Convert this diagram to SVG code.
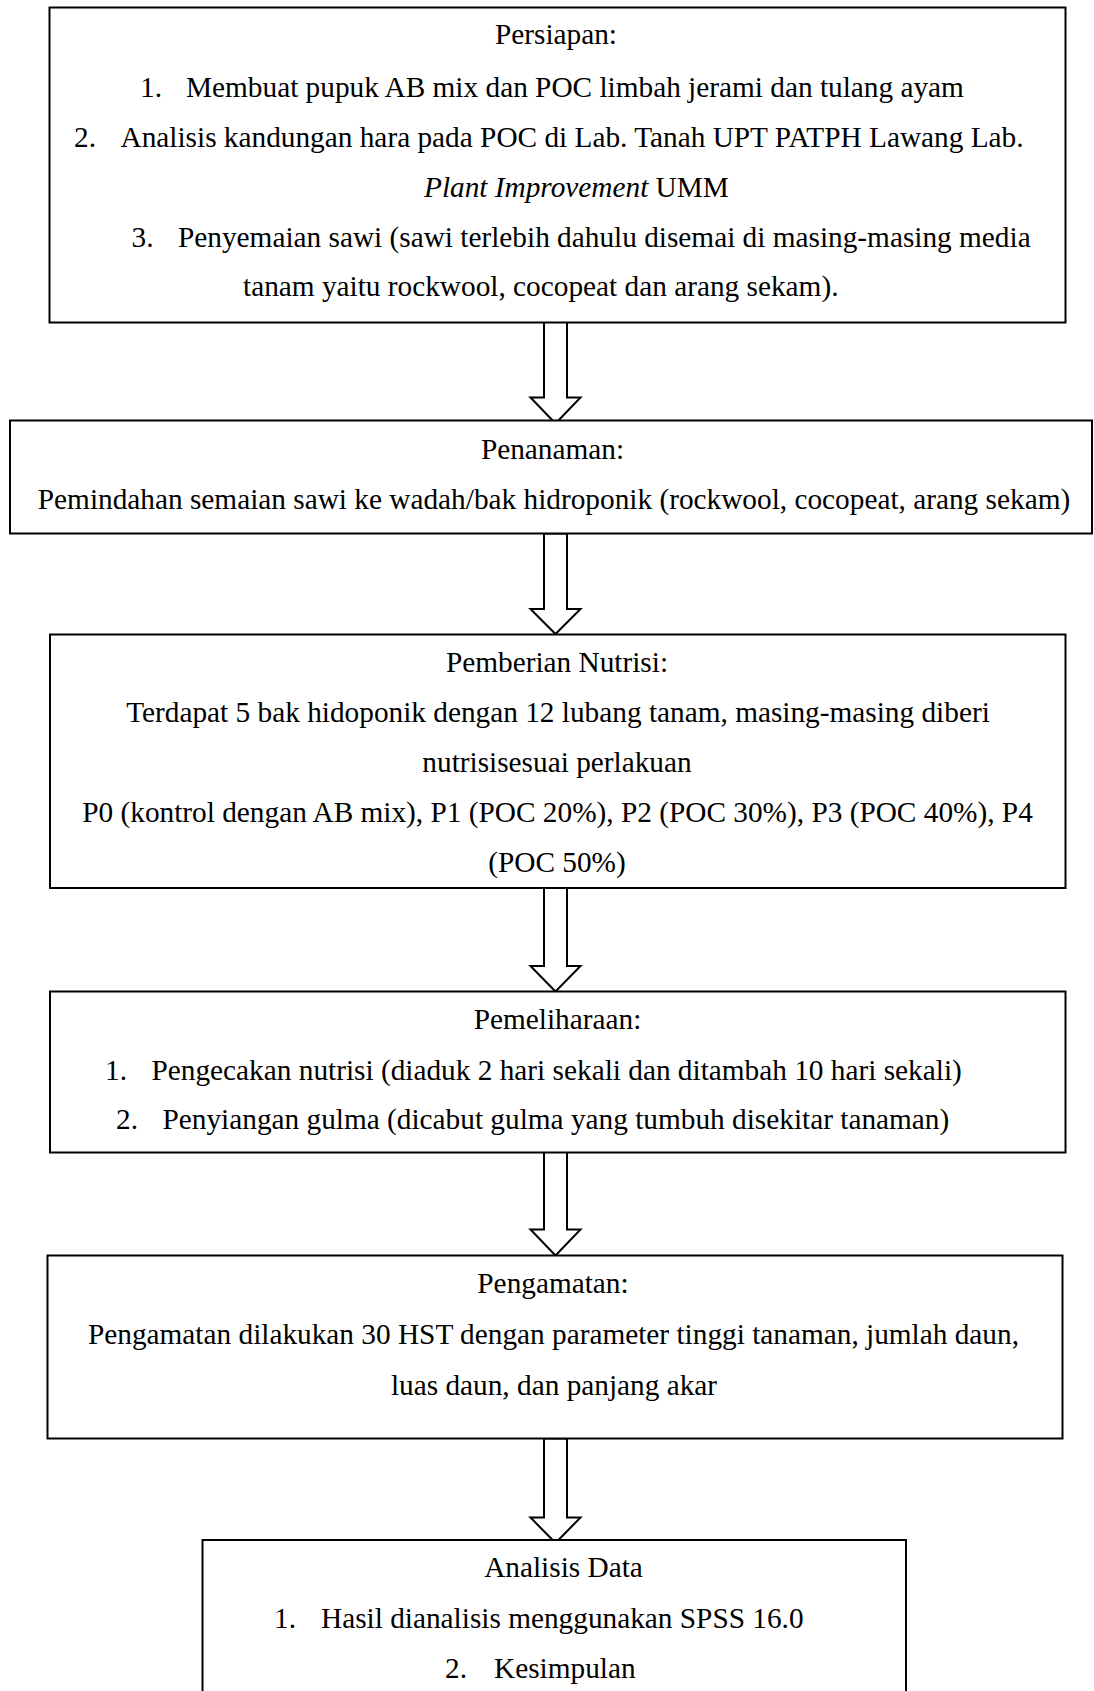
<svg xmlns="http://www.w3.org/2000/svg" width="1094" height="1691" viewBox="0 0 1094 1691">
  <style>
    .box { fill: #ffffff; stroke: #000000; stroke-width: 2; }
    .arrow { fill: #ffffff; stroke: #000000; stroke-width: 2; stroke-linejoin: miter; }
    text { font-family: "Liberation Serif", "Times New Roman", serif; font-size: 29.3px; fill: #000000; }
    .c { text-anchor: middle; }
    .i { font-style: italic; }
  </style>
  <rect x="0" y="0" width="1094" height="1691" fill="#ffffff"/>

  <g id="connectors">
    <polygon class="arrow" points="544,320 567,320 567,397.5 580.5,397.5 555.5,423.5 530.5,397.5 544,397.5"/>
    <polygon class="arrow" points="544,533.5 567,533.5 567,609 580.5,609 555.5,634 530.5,609 544,609"/>
    <polygon class="arrow" points="544,888 567,888 567,966 580.5,966 555.5,991.5 530.5,966 544,966"/>
    <polygon class="arrow" points="544,1152 567,1152 567,1229.5 580.5,1229.5 555.5,1255.5 530.5,1229.5 544,1229.5"/>
    <polygon class="arrow" points="544,1438.5 567,1438.5 567,1517.5 580.5,1517.5 555.5,1543 530.5,1517.5 544,1517.5"/>
  </g>

  <g id="node-persiapan">
    <rect class="box" x="49.5" y="7.5" width="1016" height="315"/>
    <text class="c" x="556" y="44">Persiapan:</text>
    <text x="140" y="96.5">1.</text>
    <text x="186" y="96.5">Membuat pupuk AB mix dan POC limbah jerami dan tulang ayam</text>
    <text x="74" y="147">2.</text>
    <text x="120.5" y="147">Analisis kandungan hara pada POC di Lab. Tanah UPT PATPH Lawang Lab.</text>
    <text x="424" y="197"><tspan class="i">Plant Improvement</tspan> UMM</text>
    <text x="131.5" y="247">3.</text>
    <text x="178" y="247">Penyemaian sawi (sawi terlebih dahulu disemai di masing-masing media</text>
    <text x="243" y="296">tanam yaitu rockwool, cocopeat dan arang sekam).</text>
  </g>

  <g id="node-penanaman">
    <rect class="box" x="10" y="420.5" width="1082" height="113"/>
    <text class="c" x="552.5" y="459">Penanaman:</text>
    <text class="c" x="554" y="508.5">Pemindahan semaian sawi ke wadah/bak hidroponik (rockwool, cocopeat, arang sekam)</text>
  </g>

  <g id="node-nutrisi">
    <rect class="box" x="50" y="634.5" width="1015.5" height="253.5"/>
    <text class="c" x="557" y="672">Pemberian Nutrisi:</text>
    <text class="c" x="558" y="722">Terdapat 5 bak hidoponik dengan 12 lubang tanam, masing-masing diberi</text>
    <text class="c" x="557" y="772">nutrisisesuai perlakuan</text>
    <text class="c" x="557.5" y="822">P0 (kontrol dengan AB mix), P1 (POC 20%), P2 (POC 30%), P3 (POC 40%), P4</text>
    <text class="c" x="557" y="872">(POC 50%)</text>
  </g>

  <g id="node-pemeliharaan">
    <rect class="box" x="50" y="991.5" width="1015.5" height="161"/>
    <text class="c" x="557.5" y="1028.5">Pemeliharaan:</text>
    <text x="105" y="1079.5">1.</text>
    <text x="151.5" y="1079.5">Pengecakan nutrisi (diaduk 2 hari sekali dan ditambah 10 hari sekali)</text>
    <text x="116" y="1129">2.</text>
    <text x="162.5" y="1129">Penyiangan gulma (dicabut gulma yang tumbuh disekitar tanaman)</text>
  </g>

  <g id="node-pengamatan">
    <rect class="box" x="47.5" y="1255.5" width="1015" height="183"/>
    <text class="c" x="553" y="1292.5">Pengamatan:</text>
    <text class="c" x="553.5" y="1343.5">Pengamatan dilakukan 30 HST dengan parameter tinggi tanaman, jumlah daun,</text>
    <text class="c" x="554" y="1395">luas daun, dan panjang akar</text>
  </g>

  <g id="node-analisis">
    <rect class="box" x="202.5" y="1540" width="703.5" height="170"/>
    <text class="c" x="563.5" y="1577">Analisis Data</text>
    <text x="274" y="1628">1.</text>
    <text x="321" y="1628">Hasil dianalisis menggunakan SPSS 16.0</text>
    <text x="445" y="1678">2.</text>
    <text x="494" y="1678">Kesimpulan</text>
  </g>
</svg>
